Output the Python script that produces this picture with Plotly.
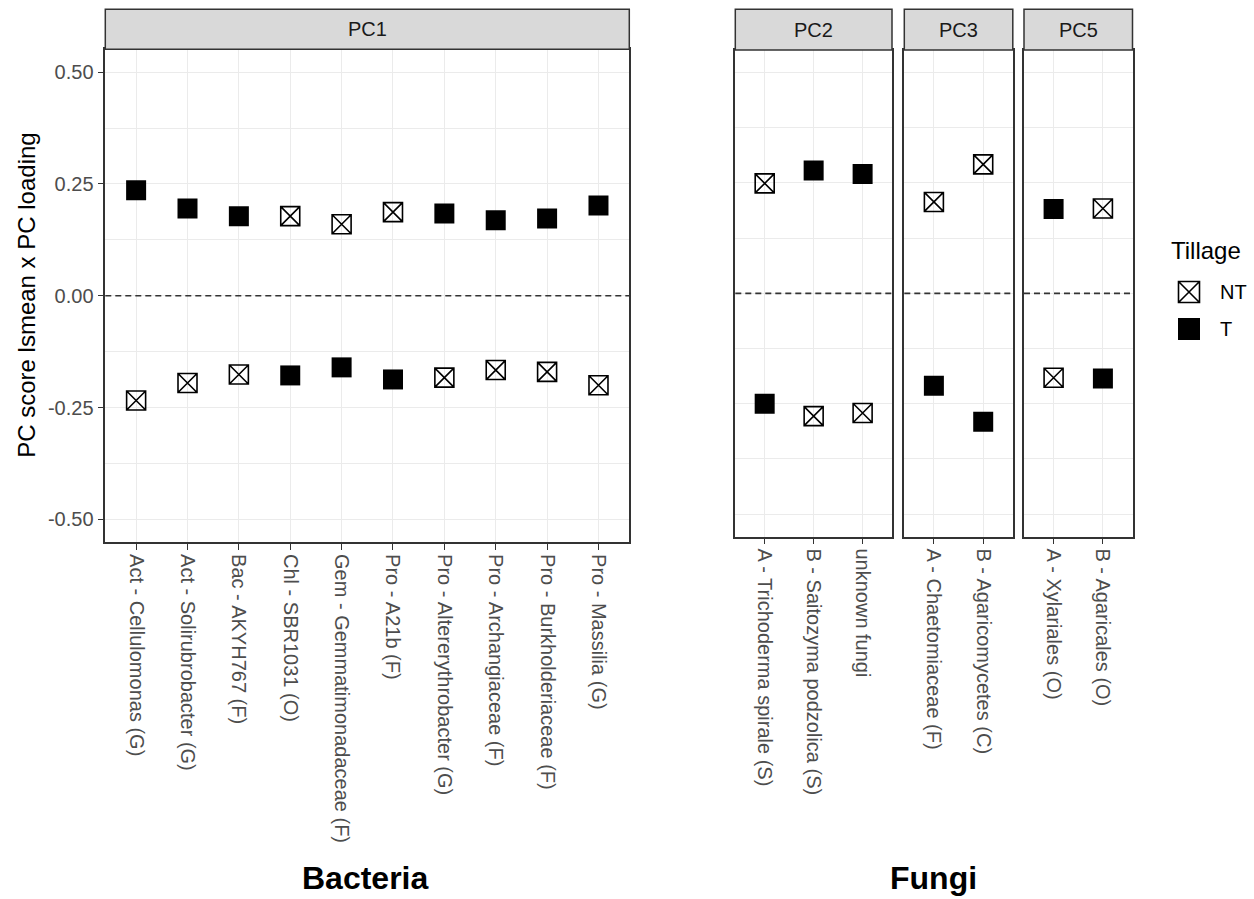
import plotly.graph_objects as go

# ---------------------------------------------------------------- data
tillage_levels = ["NT", "T"]

bacteria_taxa = [
    "Act - Cellulomonas (G)",
    "Act - Solirubrobacter (G)",
    "Bac - AKYH767 (F)",
    "Chl - SBR1031 (O)",
    "Gem - Gemmatimonadaceae (F)",
    "Pro - A21b (F)",
    "Pro - Altererythrobacter (G)",
    "Pro - Archangiaceae (F)",
    "Pro - Burkholderiaceae (F)",
    "Pro - Massilia (G)",
]
pc1_nt = [-0.234, -0.195, -0.176, 0.178, 0.160, 0.187, -0.183, -0.166, -0.170, -0.200]
pc1_t = [0.236, 0.195, 0.178, -0.178, -0.160, -0.187, 0.184, 0.169, 0.173, 0.202]

pc2_taxa = ["A - Trichoderma spirale (S)", "B - Saitozyma podzolica (S)", "unknown fungi"]
pc2_nt = [0.249, -0.278, -0.271]
pc2_t = [-0.250, 0.278, 0.270]

pc3_taxa = ["A - Chaetomiaceae (F)", "B - Agaricomycetes (C)"]
pc3_nt = [0.207, 0.292]
pc3_t = [-0.209, -0.291]

pc5_taxa = ["A - Xylariales (O)", "B - Agaricales (O)"]
pc5_nt = [-0.191, 0.192]
pc5_t = [0.191, -0.193]

y_ticks = [-0.50, -0.25, 0.00, 0.25, 0.50]
y_minor = [-0.375, -0.125, 0.125, 0.375]

# ---------------------------------------------------------------- geometry (pixels)
W, H = 1254, 899
FONT = "Liberation Sans, Arial, sans-serif"
GRID = "#EBEBEB"
FRAME = "#333333"


def px_x(v):
    return v / W


def px_y(v):
    return 1 - v / H


panels = [
    # strip label, taxa, NT values, T values, x span, plot y span
    ("PC1", bacteria_taxa, pc1_nt, pc1_t, (105.3, 629.3), (49.3, 542.3)),
    ("PC2", pc2_taxa, pc2_nt, pc2_t, (735.3, 892.0), (50.0, 536.7)),
    ("PC3", pc3_taxa, pc3_nt, pc3_t, (904.3, 1012.8), (50.0, 536.7)),
    ("PC5", pc5_taxa, pc5_nt, pc5_t, (1024.0, 1132.5), (50.0, 536.7)),
]
STRIP_TOP = 9.3

nt_marker = dict(symbol="square-x-open", size=19, color="black", line=dict(width=1.6, color="black"))
t_marker = dict(symbol="square", size=20, color="black", line=dict(width=0))

fig = go.Figure()
layout = dict(
    width=W,
    height=H,
    margin=dict(l=0, r=0, t=0, b=0),
    paper_bgcolor="white",
    plot_bgcolor="white",
    showlegend=False,
    font=dict(family=FONT, color="#4D4D4D"),
)
shapes = []
annotations = []

for i, (label, taxa, nt_vals, t_vals, (x0, x1), (y0, y1)) in enumerate(panels):
    sfx = "" if i == 0 else str(i + 1)
    xa, ya = "x" + sfx, "y" + sfx
    fig.add_trace(go.Scatter(x=taxa, y=nt_vals, mode="markers", marker=nt_marker,
                             xaxis=xa, yaxis=ya, name="NT", hoverinfo="x+y+name"))
    fig.add_trace(go.Scatter(x=taxa, y=t_vals, mode="markers", marker=t_marker,
                             xaxis=xa, yaxis=ya, name="T", hoverinfo="x+y+name"))

    layout["xaxis" + sfx] = dict(
        domain=[px_x(x0), px_x(x1)],
        anchor=ya,
        type="category",
        categoryorder="array",
        categoryarray=taxa,
        range=[-0.6, len(taxa) - 0.4],
        showgrid=True, gridcolor=GRID, gridwidth=1.3,
        ticks="outside", ticklen=6, tickwidth=1.2, tickcolor=FRAME,
        tickangle=90,
        tickfont=dict(family=FONT, size=20, color="#4D4D4D"),
        showline=True, linecolor=FRAME, linewidth=1.5, mirror=True,
        zeroline=False, fixedrange=True,
    )
    layout["yaxis" + sfx] = dict(
        domain=[px_y(y1), px_y(y0)],
        anchor=xa,
        range=[-0.551, 0.551],
        tickmode="array",
        tickvals=y_ticks,
        ticktext=[f"{v:.2f}" for v in y_ticks],
        showticklabels=(i == 0),
        ticks="outside" if i == 0 else "",
        ticklen=6, tickwidth=1.2, tickcolor=FRAME,
        tickfont=dict(family=FONT, size=20, color="#4D4D4D"),
        showgrid=True, gridcolor=GRID, gridwidth=1.3,
        minor=dict(tickmode="array", tickvals=y_minor, showgrid=True,
                   gridcolor=GRID, gridwidth=0.8, ticks=""),
        showline=True, linecolor=FRAME, linewidth=1.5, mirror=True,
        zeroline=False, fixedrange=True,
    )

    # zero reference line
    shapes.append(dict(type="line", xref=xa + " domain", yref=ya, x0=0, x1=1, y0=0, y1=0,
                       line=dict(color=FRAME, width=1.6, dash="6px,4px"), layer="above"))
    # facet strip
    shapes.append(dict(type="rect", xref="paper", yref="paper",
                       x0=px_x(x0), x1=px_x(x1), y0=px_y(y0), y1=px_y(STRIP_TOP),
                       fillcolor="#D9D9D9", line=dict(color=FRAME, width=1.5), layer="above"))
    annotations.append(dict(text=label, xref="paper", yref="paper",
                            x=px_x((x0 + x1) / 2), y=px_y((STRIP_TOP + y0) / 2),
                            xanchor="center", yanchor="middle", showarrow=False,
                            font=dict(family=FONT, size=20, color="#1A1A1A")))

# ---------------------------------------------------------------- titles
annotations.append(dict(text="PC score lsmean x PC loading", xref="paper", yref="paper",
                        x=px_x(27), y=px_y(295.8), xanchor="center", yanchor="middle",
                        textangle=-90, showarrow=False,
                        font=dict(family=FONT, size=24, color="black")))
annotations.append(dict(text="<b>Bacteria</b>", xref="paper", yref="paper",
                        x=px_x(365), y=px_y(878), xanchor="center", yanchor="middle",
                        showarrow=False, font=dict(family=FONT, size=32, color="black")))
annotations.append(dict(text="<b>Fungi</b>", xref="paper", yref="paper",
                        x=px_x(933), y=px_y(878), xanchor="center", yanchor="middle",
                        showarrow=False, font=dict(family=FONT, size=32, color="black")))

# ---------------------------------------------------------------- legend (Tillage)
fig.add_trace(go.Scatter(x=["Tillage"], y=[tillage_levels[0]], mode="markers",
                         marker=dict(nt_marker, size=21), xaxis="x5", yaxis="y5", hoverinfo="skip"))
fig.add_trace(go.Scatter(x=["Tillage"], y=[tillage_levels[1]], mode="markers",
                         marker=dict(t_marker, size=22), xaxis="x5", yaxis="y5", hoverinfo="skip"))
layout["xaxis5"] = dict(domain=[px_x(1177), px_x(1201)], anchor="y5", type="category",
                        range=[-0.5, 0.5], visible=False, fixedrange=True)
layout["yaxis5"] = dict(domain=[px_y(347.5), px_y(273.5)], anchor="x5", type="category",
                        categoryorder="array", categoryarray=tillage_levels,
                        range=[1.5, -0.5], visible=False, fixedrange=True)
annotations.append(dict(text="Tillage", xref="paper", yref="paper",
                        x=px_x(1169), y=px_y(251), xanchor="left", yanchor="middle",
                        showarrow=False, font=dict(family=FONT, size=24, color="black")))
for lvl, yc in zip(tillage_levels, (292, 329)):
    annotations.append(dict(text=lvl, xref="paper", yref="paper",
                            x=px_x(1218), y=px_y(yc), xanchor="left", yanchor="middle",
                            showarrow=False, font=dict(family=FONT, size=20, color="black")))

layout["shapes"] = shapes
layout["annotations"] = annotations
fig.update_layout(**layout)

fig.write_html("out.html")
